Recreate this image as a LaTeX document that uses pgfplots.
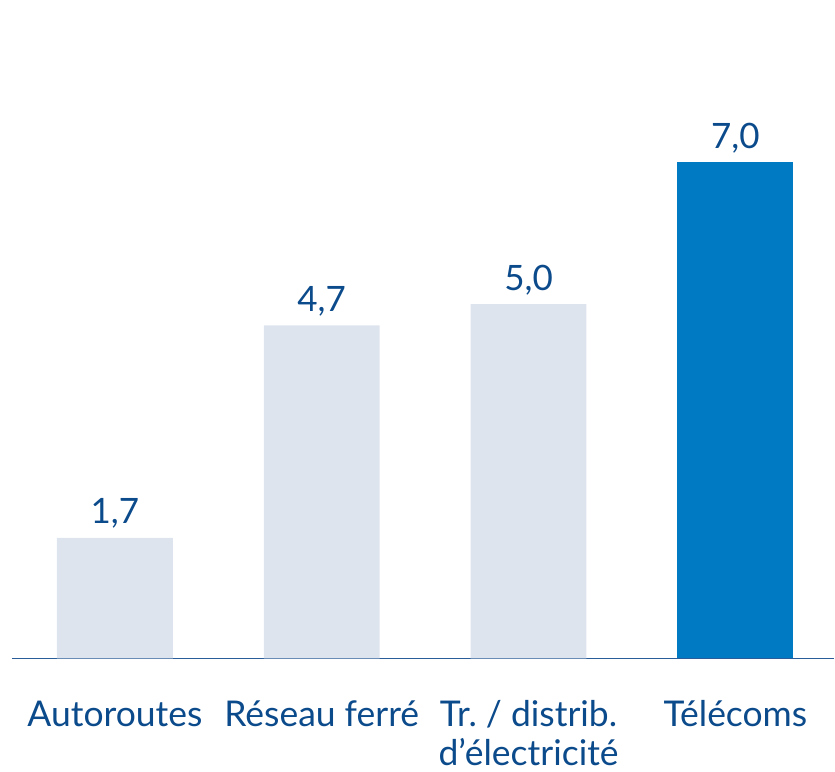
\documentclass[border=0pt]{standalone}
\usepackage{pgfplots}
\pgfplotsset{compat=1.18}
\usepackage{fontspec}
\setmainfont{Lato}
\definecolor{labelblue}{HTML}{0B4A8B}
\definecolor{lightbar}{HTML}{DEE4EE}
\definecolor{darkbar}{HTML}{007AC2}
\definecolor{axisblue}{HTML}{2A5C9A}
\begin{document}
\begin{tikzpicture}
  \begin{axis}[
    at={(0pt,0pt)}, anchor=south west,
    scale only axis,
    width=823pt, height=659pt,
    xmin=-0.4976, xmax=3.478,
    ymin=0, ymax=9.29,
    axis x line*=bottom,
    axis y line=none,
    x axis line style={draw=axisblue, line width=1.6pt},
    major tick length=0pt,
    xtick={0,1,2,3},
    xticklabels={\strut Autoroutes, \strut Réseau ferré,
      {\strut Tr.~/ distrib.\\d’électricité}, \strut Télécoms},
    xticklabel style={font=\fontsize{35.5}{39.5}\selectfont, text=labelblue,
      align=center, anchor=north, inner sep=0pt, yshift=-40pt},
    ybar, bar width=116pt,
    /pgf/number format/.cd, use comma, fixed, fixed zerofill, precision=1,
      assume math mode=true, /pgfplots/.cd,
    nodes near coords,
    nodes near coords style={font=\fontsize{35}{41}\selectfont, text=labelblue,
      anchor=base, yshift=14pt},
    clip=false,
  ]
    \addplot[fill=lightbar, draw=none, bar shift=0pt] coordinates {
      (0, 1.7)
      (1, 4.7)
      (2, 5.0)
    };
    \addplot[fill=darkbar, draw=none, bar shift=0pt] coordinates {
      (3, 7.0)
    };
  \end{axis}
  \path (-12pt,-113pt) rectangle (823pt,659pt);
\end{tikzpicture}
\end{document}
